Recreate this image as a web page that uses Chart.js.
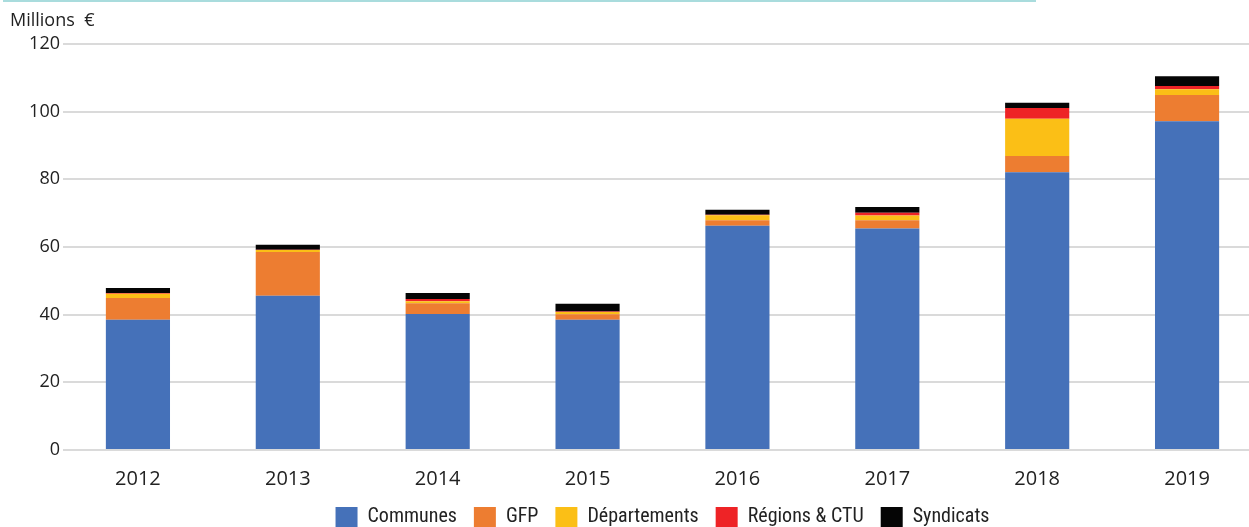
<!DOCTYPE html>
<html>
<head>
<meta charset="utf-8">
<script src="https://cdn.jsdelivr.net/npm/chart.js@4/dist/chart.umd.min.js"></script>
<style>
  html, body { margin: 0; padding: 0; background: #fff; overflow: hidden; width: 1249px; height: 527px; }
  #wrap { position: relative; width: 1265px; height: 527px; }
  #topline { position: absolute; left: 3px; top: 0; width: 1033px; height: 2px; background: #a9dcdd; }
  #unit { position: absolute; left: 10px; top: 7px; font: 18px "Open Sans", sans-serif; color: #222; }
</style>
</head>
<body>
<div id="wrap">
  <div id="topline"></div>
  <div id="unit">Millions &nbsp;€</div>
  <canvas id="myChart" width="1265" height="527"></canvas>
</div>
<script>
const years = ['2012', '2013', '2014', '2015', '2016', '2017', '2018', '2019'];

const communes     = [38.5, 45.6, 40.2, 38.5, 66.3, 65.5, 82.1, 97.2];
const gfp          = [6.4, 12.9, 3.2, 1.6, 1.6, 2.4, 4.8, 7.7];
const departements = [1.3, 0.6, 0.6, 0.7, 1.5, 1.4, 11.0, 1.7];
const regions      = [0.2, 0.1, 0.6, 0.1, 0.1, 0.8, 3.2, 1.0];
const syndicats    = [1.5, 1.5, 1.8, 2.3, 1.5, 1.7, 1.5, 2.9];

const yTicks = [0, 20, 40, 60, 80, 100, 120];

function serie(label, data, color) {
    return {
        label: label,
        data: data,
        backgroundColor: color,
        borderWidth: 0,
        barPercentage: 0.428,
        categoryPercentage: 1
    };
}

const ctx = document.getElementById('myChart').getContext('2d');

const myChart = new Chart(ctx, {
    type: 'bar',
    data: {
        labels: years,
        datasets: [
            serie('Communes', communes, '#4571b9'),
            serie('GFP', gfp, '#ed7d31'),
            serie('Départements', departements, '#fbbf16'),
            serie('Régions & CTU', regions, '#ee2326'),
            serie('Syndicats', syndicats, '#050505')
        ]
    },
    options: {
        responsive: false,
        animation: false,
        layout: { padding: { top: 44, right: 3, left: 0, bottom: -10 } },
        plugins: {
            tooltip: { enabled: false },
            legend: {
                position: 'bottom',
                fullSize: false,
                labels: {
                    boxWidth: 22,
                    boxHeight: 20,
                    padding: 17,
                    color: '#222',
                    font: { family: '"Liberation Sans Narrow", "Roboto Condensed", Roboto, sans-serif', size: 20 }
                }
            }
        },
        scales: {
            x: {
                stacked: true,
                grid: { display: false },
                border: { display: false },
                ticks: {
                    color: '#222',
                    padding: 9,
                    font: { family: '"Open Sans", sans-serif', size: 20 }
                },
                afterFit: function (scale) { scale.height = 40; }
            },
            y: {
                stacked: true,
                min: 0,
                max: 120,
                afterBuildTicks: function (scale) {
                    scale.ticks = yTicks.map(v => ({ value: v }));
                },
                grid: { color: '#dadada', lineWidth: 2, drawTicks: false },
                border: { display: false },
                ticks: {
                    color: '#222',
                    padding: 3,
                    font: { family: '"Open Sans", sans-serif', size: 18 }
                },
                afterFit: function (scale) { scale.width = 63; }
            }
        }
    }
});
</script>
</body>
</html>
